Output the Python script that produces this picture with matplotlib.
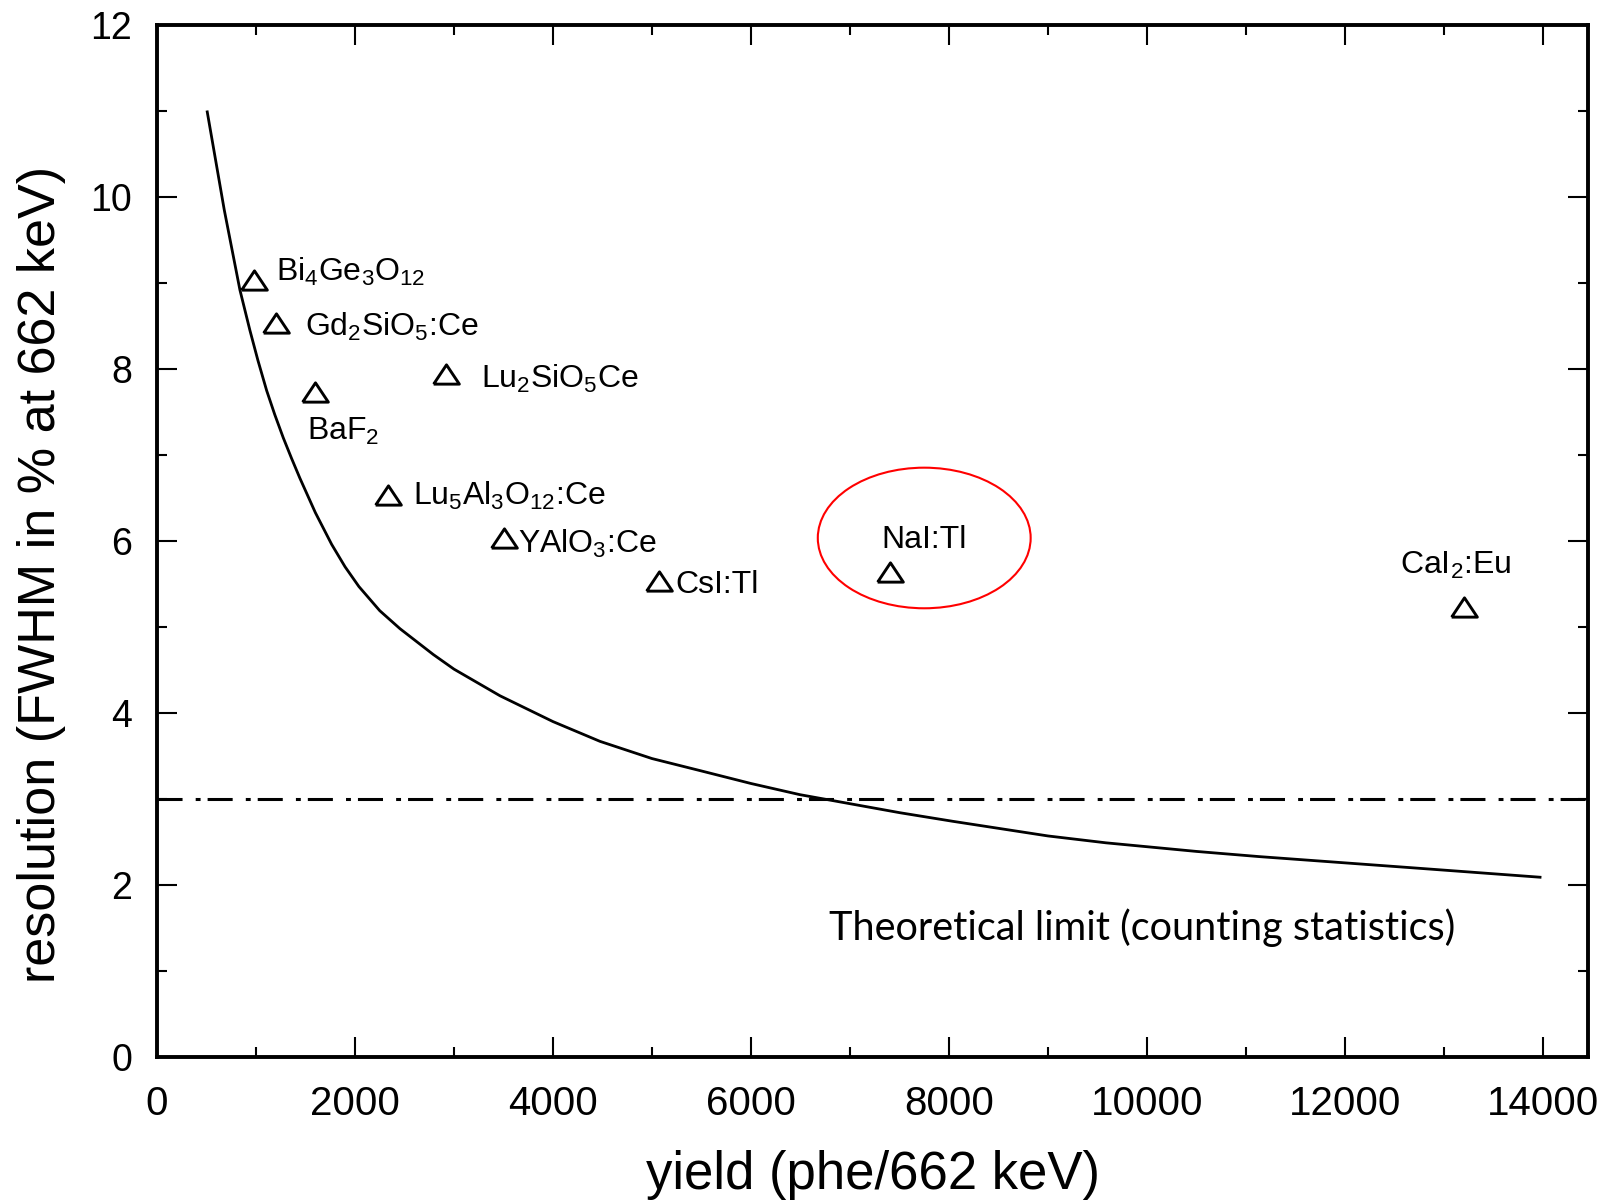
import matplotlib
matplotlib.use("Agg")
import matplotlib.pyplot as plt
from matplotlib.patches import Ellipse
from matplotlib.ticker import MultipleLocator

plt.rcParams['font.family'] = ['Liberation Sans', 'DejaVu Sans']
plt.rcParams['mathtext.fontset'] = 'custom'
plt.rcParams['mathtext.rm'] = 'Liberation Sans'
plt.rcParams['mathtext.it'] = 'Liberation Sans:italic'
plt.rcParams['mathtext.default'] = 'regular'

# scintillators: light yield (phe/662 keV) and measured resolution (%)
materials = ['Bi$_4$Ge$_3$O$_{12}$', 'Gd$_2$SiO$_5$:Ce', 'Lu$_2$SiO$_5$Ce', 'BaF$_2$',
             'Lu$_5$Al$_3$O$_{12}$:Ce', 'YAlO$_3$:Ce', 'CsI:Tl', 'NaI:Tl', 'CaI$_2$:Eu']
yields = [980, 1200, 2920, 1600, 2330, 3510, 5070, 7400, 13200]
resolution = [9.03, 8.53, 7.94, 7.73, 6.53, 6.04, 5.53, 5.64, 5.23]

# label offsets from each marker, in points
label_dx = [16, 21, 25, -6, 18, 10, 12, -6, -46]
label_dy = [0, -9, -10, -34, -7, -11, -8, 17, 24]

# counting statistics curve
curve_yield = [508, 680, 838, 939, 1020, 1108, 1190, 1276, 1360, 1444, 1600, 1765,
               1900, 2040, 2250, 2455, 2791, 3000, 3465, 4000, 4475, 5000, 5485,
               6000, 6495, 7505, 8040, 9000, 9586, 10500, 11131, 12677, 13970]
curve_res = [10.99, 9.85, 8.92, 8.45, 8.10, 7.75, 7.47, 7.20, 6.96, 6.73, 6.33, 5.96,
             5.70, 5.47, 5.19, 4.98, 4.68, 4.51, 4.20, 3.90, 3.67, 3.47, 3.33,
             3.18, 3.05, 2.84, 2.74, 2.57, 2.49, 2.39, 2.33, 2.20, 2.09]

limit_level = 3.0

fig = plt.figure(figsize=(16.08, 12.03), dpi=100)
ax = fig.add_axes([0.0976, 0.1214, 0.89, 0.8578])

ax.plot(curve_yield, curve_res, color='black', lw=2.0)
ax.axhline(limit_level, color='black', lw=2.2, linestyle=(0, (8.2, 4.3, 1.6, 2.3)))

tri = [(-1, -0.75), (1, -0.75), (0, 0.75), (-1, -0.75)]
ax.plot(yields, resolution, linestyle='none', marker=tri, ms=18.5,
        mfc='none', mec='black', mew=2.1)

for name, x, y, dx, dy in zip(materials, yields, resolution, label_dx, label_dy):
    ax.annotate(name, (x, y), xytext=(dx, dy), textcoords='offset points',
                ha='left', va='baseline', fontsize=23)

ax.add_patch(Ellipse((7750, 6.035), 2150, 1.635, fill=False, edgecolor='red', lw=1.5))

ax.text(9950, 1.36, 'Theoretical limit (counting statistics)', ha='center',
        va='baseline', fontsize=28.5, family=['Lato', 'DejaVu Sans'])

ax.set_xlim(0, 14455)
ax.set_ylim(0, 12)
ax.xaxis.set_major_locator(MultipleLocator(2000))
ax.xaxis.set_minor_locator(MultipleLocator(1000))
ax.yaxis.set_major_locator(MultipleLocator(2))
ax.yaxis.set_minor_locator(MultipleLocator(1))
ax.tick_params(which='both', direction='in', top=True, right=True, width=1.5)
ax.tick_params(which='major', length=14.5)
ax.tick_params(which='minor', length=7)
ax.tick_params(axis='x', labelsize=29, pad=20)
ax.tick_params(axis='y', labelsize=27, pad=18)
for sp in ax.spines.values():
    sp.set_linewidth(2.8)

ax.set_xlabel('yield (phe/662 keV)', fontsize=38)
ax.xaxis.set_label_coords(0.5, -0.128)
ax.xaxis.label.set_va('baseline')
ax.set_ylabel('resolution (FWHM in % at 662 keV)', fontsize=37.5)
ax.yaxis.set_label_coords(-0.081, 0.468)
ax.yaxis.label.set_va('center')

fig.savefig('out.png', dpi=100)
